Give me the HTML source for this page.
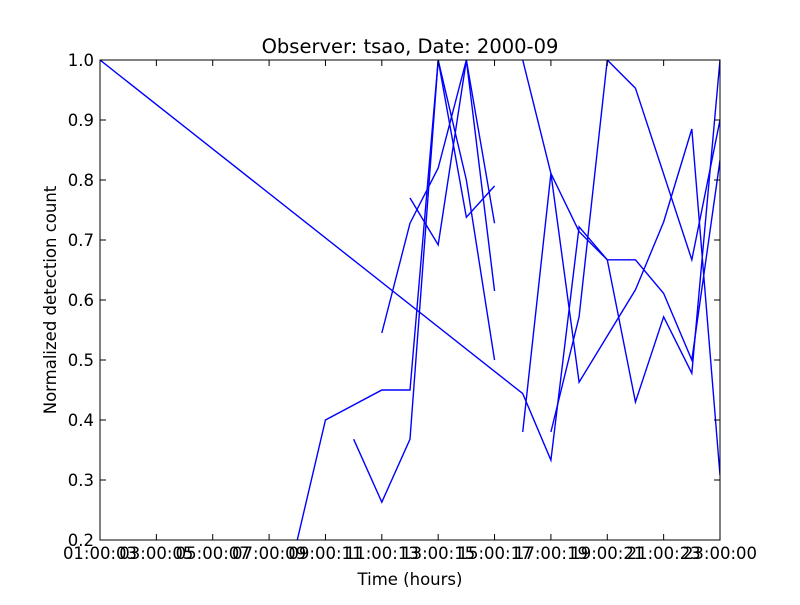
<!DOCTYPE html>
<html><head><meta charset="utf-8"><style>
body{margin:0;background:#fff;}
svg text{font-family:"DejaVu Sans","Liberation Sans",sans-serif;}
</style></head><body>
<svg id="chart" width="800" height="600" xmlns="http://www.w3.org/2000/svg">
<rect width="800" height="600" fill="#fff"/>
<defs><clipPath id="clip"><rect x="100" y="60" width="620" height="480"/></clipPath></defs>
<g id="series" clip-path="url(#clip)"></g>
<rect x="100" y="60" width="620" height="480" fill="none" stroke="#000" stroke-width="1"/>
<g id="ticks"></g>
<text x="410" y="53" font-size="19.5" text-anchor="middle">Observer: tsao, Date: 2000-09</text>
<text x="410" y="585" font-size="16.5" text-anchor="middle">Time (hours)</text>
<text transform="translate(56,300) rotate(-90)" font-size="16.5" text-anchor="middle">Normalized detection count</text>
</svg>
<script>
const xTickHours = [1,3,5,7,9,11,13,15,17,19,21,23];
const xTickLabels = ["01:00:03","03:00:05","05:00:07","07:00:09","09:00:11","11:00:13","13:00:15","15:00:17","17:00:19","19:00:21","21:00:23","23:00:00"];
const yTicks = [0.2,0.3,0.4,0.5,0.6,0.7,0.8,0.9,1.0];
const yTickLabels = ["0.2","0.3","0.4","0.5","0.6","0.7","0.8","0.9","1.0"];
const seriesA = [[1,1.0],[16,0.444],[17,0.333],[18,0.722],[19,0.667],[20,0.667],[21,0.611],[22,0.5],[23,0.833]];
const seriesB = [[8,0.2],[9,0.4],[11,0.45],[12,0.45],[13,1.0],[14,0.8],[15,0.5]];
const seriesC = [[10,0.368],[11,0.263],[12,0.368],[13,1.0],[14,0.738],[15,0.79]];
const seriesD = [[11,0.545],[12,0.728],[13,0.82],[14,1.0],[15,0.728]];
const seriesE = [[12,0.77],[13,0.692],[14,1.0],[15,0.615]];
const seriesF = [[16,1.0],[17,0.811],[18,0.714],[19,0.667],[20,0.43],[21,0.572],[22,0.478],[23,1.0]];
const seriesG = [[16,0.38],[17,0.811],[18,0.463],[20,0.617],[21,0.73],[22,0.885],[23,0.308]];
const seriesH = [[17,0.38],[18,0.572],[19,1.0],[20,0.953],[22,0.667],[23,0.9]];
const allSeries = [seriesA,seriesB,seriesC,seriesD,seriesE,seriesF,seriesG,seriesH];

const NS="http://www.w3.org/2000/svg";
function xs(h){return 100+(h-1)*(620/22);}
function ys(v){return 540-(v-0.2)*600;}
const sg=document.getElementById('series');
allSeries.forEach((s,i)=>{
  const p=document.createElementNS(NS,'polyline');
  p.setAttribute('points',s.map(d=>xs(d[0])+','+ys(d[1])).join(' '));
  p.setAttribute('fill','none');p.setAttribute('stroke','#0000ff');p.setAttribute('stroke-width','1.4');
  
  
  sg.appendChild(p);
});
const tg=document.getElementById('ticks');
function line(x1,y1,x2,y2){const l=document.createElementNS(NS,'line');l.setAttribute('x1',x1);l.setAttribute('y1',y1);l.setAttribute('x2',x2);l.setAttribute('y2',y2);l.setAttribute('stroke','#000');tg.appendChild(l);return l;}
xTickHours.forEach((h,i)=>{
  const x=xs(h);
  line(x,540,x,534);line(x,60,x,66);
  const t=document.createElementNS(NS,'text');
  t.setAttribute('x',x);t.setAttribute('y',559);t.setAttribute('font-size','16.5');t.setAttribute('text-anchor','middle');
  t.textContent=xTickLabels[i];
  
  
  tg.appendChild(t);
});
yTicks.forEach((v,i)=>{
  const y=ys(v);
  line(100,y,106,y);line(720,y,714,y);
  const t=document.createElementNS(NS,'text');
  t.setAttribute('x',94);t.setAttribute('y',y+6);t.setAttribute('font-size','16.5');t.setAttribute('text-anchor','end');
  t.textContent=yTickLabels[i];
  
  
  tg.appendChild(t);
});
</script>
</body></html>
